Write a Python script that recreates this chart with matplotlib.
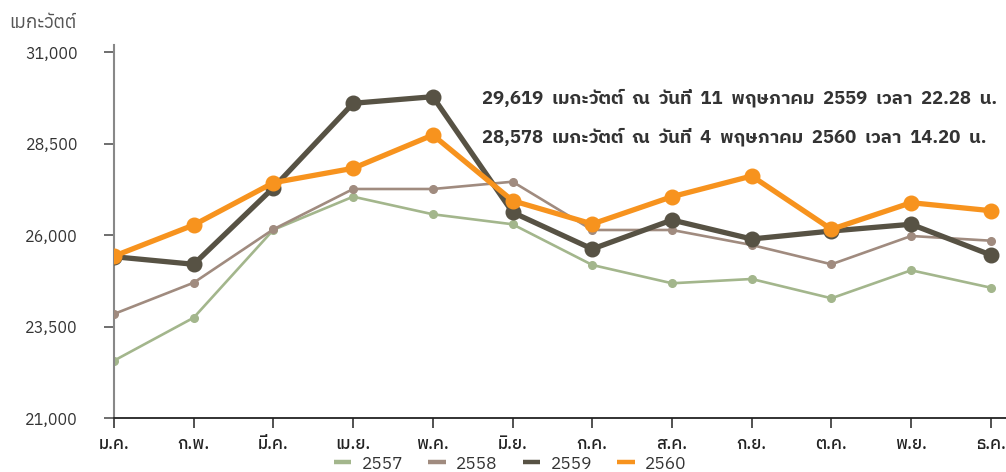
import matplotlib
matplotlib.use("Agg")
import matplotlib.pyplot as plt
from matplotlib.ticker import FuncFormatter

plt.rcParams['font.family'] = ['Anuphan', 'DejaVu Sans']

months = ['ม.ค.', 'ก.พ.', 'มี.ค.', 'เม.ย.', 'พ.ค.', 'มิ.ย.',
          'ก.ค.', 'ส.ค.', 'ก.ย.', 'ต.ค.', 'พ.ย.', 'ธ.ค.']

# peak demand per month (MW)
y2557 = [22574, 23749, 26150, 27055, 26574, 26301, 25189, 24689, 24806, 24279, 25044, 24568]
y2558 = [23850, 24705, 26164, 27265, 27265, 27464, 26145, 26145, 25735, 25208, 25981, 25852]
y2559 = [25415, 25208, 27300, 29607, 29787, 26628, 25626, 26418, 25899, 26117, 26301, 25462]
y2560 = [25430, 26281, 27437, 27831, 28740, 26945, 26309, 27055, 27620, 26164, 26891, 26672]

yticks = [21000, 23500, 26000, 28500, 31000]

note1 = '29,619  เมกะวัตต์  ณ  วันที่  11  พฤษภาคม  2559  เวลา  22.28  น.'
note2 = '28,578  เมกะวัตต์  ณ  วันที่  4  พฤษภาคม  2560  เวลา  14.20  น.'

bold_font = 'IBM Plex Sans Thai'

fig = plt.figure(figsize=(10.06, 4.72), dpi=100)
ax = fig.add_axes([0.1133, 0.1138, 0.8867, 0.7909])

x = list(range(len(months)))
ax.plot(x, y2557, color='#a3b68c', lw=1.9, marker='o', ms=5.5, label='2557', zorder=2)
ax.plot(x, y2558, color='#a08b7f', lw=1.9, marker='o', ms=5.5, label='2558', zorder=3)
ax.plot(x, y2559, color='#575244', lw=3.8, marker='o', ms=10.5, label='2559', zorder=4)
ax.plot(x, y2560, color='#f7931e', lw=3.8, marker='o', ms=10.5, label='2560', zorder=5)

ax.set_xlim(0, 11.19)
ax.set_ylim(21000, 31200)
ax.set_xticks(x)
ax.set_xticklabels(months, fontsize=12, color='#222222',
                   family=[bold_font, 'DejaVu Sans'], fontweight='medium')
ax.set_yticks(yticks)
ax.yaxis.set_major_formatter(FuncFormatter(lambda v, p: '{:,.0f}'.format(v)))
ax.tick_params(axis='y', labelsize=11.5, labelcolor='#333333', color='#555555',
               length=7, width=1.2, pad=19)
ax.tick_params(axis='x', color='#333333', length=7, width=1.2, pad=6)

for s in ['top', 'right']:
    ax.spines[s].set_visible(False)
ax.spines['left'].set_color('#888888')
ax.spines['left'].set_linewidth(1.5)
ax.spines['bottom'].set_color('#222222')
ax.spines['bottom'].set_linewidth(1.3)
ax.patch.set_alpha(0)

fig.text(0.009, 0.952, 'เมกะวัตต์', fontsize=13.5, color='#555555', va='center', ha='left')

fig.text(0.479, 0.792, note1, fontsize=13.3, fontweight='bold', color='#333333',
         va='center', family=[bold_font, 'DejaVu Sans'])
fig.text(0.479, 0.710, note2, fontsize=13.3, fontweight='bold', color='#333333',
         va='center', family=[bold_font, 'DejaVu Sans'])

leg = fig.legend(loc='center', bbox_to_anchor=(0.507, 0.018), ncol=4, frameon=False,
                 fontsize=12.5, handlelength=1.0, columnspacing=1.45, handletextpad=0.6,
                 borderaxespad=0)
for h in leg.legend_handles:
    h.set_marker('')
    h.set_linewidth(3.2)
    h.set_solid_capstyle('butt')
for t in leg.get_texts():
    t.set_color('#333333')

fig.savefig('out.png', dpi=100)
